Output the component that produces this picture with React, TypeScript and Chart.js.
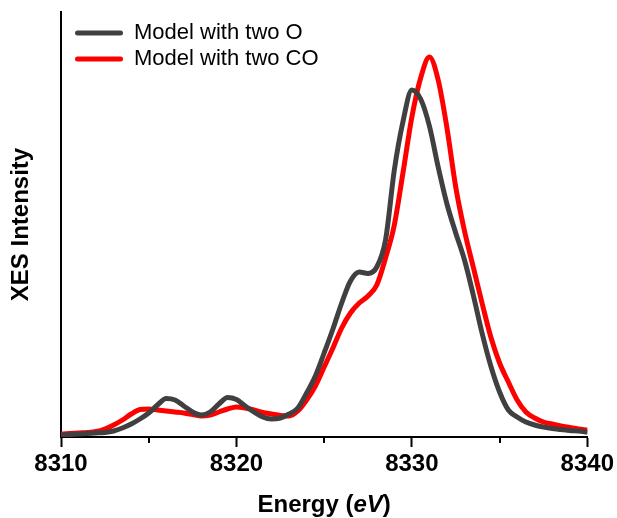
import { useEffect, useRef } from 'react';
import { Chart, registerables } from 'chart.js';

Chart.register(...registerables);

const energies = [
  8310, 8310.5, 8311, 8311.5, 8312, 8312.5, 8313, 8313.5, 8314, 8314.5,
  8315, 8315.5, 8316, 8316.5, 8317, 8317.5, 8318, 8318.5, 8319, 8319.5,
  8320, 8320.5, 8321, 8321.5, 8322, 8322.5, 8323, 8323.5, 8324, 8324.5,
  8325, 8325.5, 8326, 8326.5, 8327, 8327.5, 8328, 8328.5, 8329, 8329.5,
  8330, 8330.5, 8331, 8331.5, 8332, 8332.5, 8333, 8333.5, 8334, 8334.5,
  8335, 8335.5, 8336, 8336.5, 8337, 8337.5, 8338, 8338.5, 8339, 8339.5,
  8340,
];

const modelTwoO = [
  2, 2.5, 3, 3.5, 4, 4.5, 6, 9, 13, 18,
  24, 32, 38.5, 37, 31, 25, 22, 25, 33, 39.5,
  37.5, 31, 25, 20, 18, 19, 23, 29, 44, 61,
  84, 108, 134, 156, 165, 163.5, 170, 197, 267, 316,
  347, 338, 311, 270, 233, 204, 177, 142, 104, 71,
  45, 27, 20, 15, 12, 10, 8.5, 7.5, 6.5, 6,
  5,
];

const modelTwoCO = [
  3, 3.5, 4, 4.5, 5.5, 8, 12, 17, 23, 27.5,
  28, 27, 26, 25, 24, 22.5, 21, 22, 25, 28,
  30, 29, 27, 24.5, 23, 21.5, 21, 26, 37, 51,
  70, 89, 109, 124, 134, 141, 152, 179, 212, 265,
  320, 359, 380, 357, 309, 250, 206, 170, 134, 100,
  74, 55, 37, 25, 19, 15, 13, 11, 9.5, 8,
  7,
];

const seriesLabels = ['Model with two O', 'Model with two CO'];
const seriesColors = ['#404040', '#ff0000'];
const xMajorTicks = [8310, 8320, 8330, 8340];
const xMinorTicks = [8315, 8325, 8335];
const xRange = [8310, 8340];
const yRange = [0, 425];
const yTitle = 'XES Intensity';
const xTitleParts = ['Energy (', 'eV', ')'];

const FONT = "'Liberation Sans', Arial, Helvetica, sans-serif";

export default function App() {
  const canvasRef = useRef<HTMLCanvasElement | null>(null);

  useEffect(() => {
    const canvas = canvasRef.current;
    if (!canvas) return;
    Chart.defaults.font.family = FONT;

    const extrasPlugin = {
      id: 'extras',
      afterLayout(chart: any) {
        const l = chart.legend;
        if (l) {
          l.left += 10;
          l.right += 10;
          l.top += 18;
          l.bottom += 18;
        }
      },
      afterDraw(chart: any) {
        const ctx = chart.ctx as CanvasRenderingContext2D;
        const xs = chart.scales.x;
        ctx.save();
        ctx.strokeStyle = '#000';
        ctx.lineWidth = 2;
        xMinorTicks.forEach((v) => {
          const px = Math.round(xs.getPixelForValue(v));
          ctx.beginPath();
          ctx.moveTo(px, xs.top);
          ctx.lineTo(px, xs.top + 6);
          ctx.stroke();
        });
        const fonts = [
          `bold 24px ${FONT}`,
          `italic bold 24px ${FONT}`,
          `bold 24px ${FONT}`,
        ];
        const widths = xTitleParts.map((t, i) => {
          ctx.font = fonts[i];
          return ctx.measureText(t).width;
        });
        const total = widths.reduce((a, b) => a + b, 0);
        const cx = (chart.chartArea.left + chart.chartArea.right) / 2;
        let x = cx - total / 2;
        ctx.fillStyle = '#000';
        ctx.textBaseline = 'alphabetic';
        ctx.textAlign = 'left';
        xTitleParts.forEach((t, i) => {
          ctx.font = fonts[i];
          ctx.fillText(t, x, 512);
          x += widths[i];
        });
        ctx.restore();
      },
    };

    const chart = new Chart(canvas, {
      type: 'line',
      data: {
        datasets: [
          {
            label: seriesLabels[0],
            data: energies.map((e, i) => ({ x: e, y: modelTwoO[i] })),
            borderColor: seriesColors[0],
            backgroundColor: seriesColors[0],
            borderWidth: 5,
            borderCapStyle: 'round',
            borderJoinStyle: 'round',
            pointRadius: 0,
            cubicInterpolationMode: 'monotone',
            fill: false,
          },
          {
            label: seriesLabels[1],
            data: energies.map((e, i) => ({ x: e, y: modelTwoCO[i] })),
            borderColor: seriesColors[1],
            backgroundColor: seriesColors[1],
            borderWidth: 5,
            borderCapStyle: 'round',
            borderJoinStyle: 'round',
            pointRadius: 0,
            cubicInterpolationMode: 'monotone',
            fill: false,
          },
        ],
      },
      options: {
        animation: false,
        responsive: false,
        events: [],
        layout: { padding: { top: 12, right: 28, bottom: 0, left: 0 } },
        plugins: {
          tooltip: { enabled: false },
          legend: {
            position: 'chartArea',
            align: 'start',
            labels: {
              boxWidth: 48,
              boxHeight: 5,
              padding: 4,
              useBorderRadius: true,
              borderRadius: 2.5,
              color: '#000',
              font: { size: 22, family: FONT },
              generateLabels: (c: any) =>
                c.data.datasets.map((ds: any, i: number) => ({
                  text: ds.label,
                  fillStyle: ds.borderColor,
                  strokeStyle: ds.borderColor,
                  fontColor: '#000',
                  lineWidth: 0,
                  hidden: false,
                  datasetIndex: i,
                  borderRadius: 2.5,
                })),
            },
          },
        },
        scales: {
          x: {
            type: 'linear',
            min: xRange[0],
            max: xRange[1],
            afterBuildTicks: (s: any) => {
              s.ticks = xMajorTicks.map((v) => ({ value: v }));
            },
            ticks: {
              color: '#000',
              font: { size: 24, weight: 'bold', family: FONT },
              padding: 3,
              maxRotation: 0,
              autoSkip: false,
              callback: (v: any) => String(v),
            },
            grid: {
              drawOnChartArea: false,
              drawTicks: true,
              tickLength: 10,
              tickWidth: 2,
              tickColor: '#000',
            },
            border: { color: '#000', width: 2 },
            afterFit: (s: any) => {
              s.height = 81;
            },
          },
          y: {
            type: 'linear',
            min: yRange[0],
            max: yRange[1],
            ticks: { display: false },
            grid: { display: false },
            border: { color: '#000', width: 2 },
            title: {
              display: true,
              text: yTitle,
              color: '#000',
              font: { size: 24, weight: 'bold', family: FONT },
              padding: { top: 7, bottom: 0 },
            },
            afterFit: (s: any) => {
              s.width = 61;
            },
          },
        },
      },
      plugins: [extrasPlugin],
    } as any);

    return () => {
      chart.destroy();
    };
  }, []);

  return (
    <div style={{ position: 'absolute', left: 0, top: 0, width: 617, height: 518, background: '#fff' }}>
      <canvas ref={canvasRef} width={617} height={518} style={{ display: 'block', width: 617, height: 518 }} />
    </div>
  );
}
